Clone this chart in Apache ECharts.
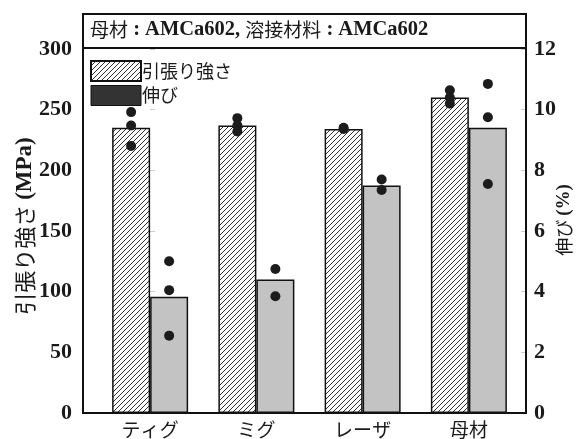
<!DOCTYPE html>
<html>
<head>
<meta charset="utf-8">
<script src="https://cdn.jsdelivr.net/npm/echarts@6/dist/echarts.min.js"></script>
<style>
  html, body { margin: 0; padding: 0; background: #fff; }
  #chart { width: 576px; height: 439px; }
</style>
</head>
<body>
<div id="chart"></div>
<script>
// Welding method comparison: tensile strength (left axis) and elongation (right axis)
const categories = ['ティグ', 'ミグ', 'レーザ', '母材'];
const strengthMean = [235, 237, 234, 260];          // MPa
const elongationMean = [3.83, 4.4, 7.5, 9.4];      // %
const strengthPoints = [[248, 237, 220], [243, 237, 232], [235, 234], [266, 260, 255]];
const elongationPoints = [[5.0, 4.05, 2.55], [4.75, 3.85], [7.7, 7.35], [10.85, 9.75, 7.55]];
const leftTicks = { min: 0, max: 300, interval: 50 };
const rightTicks = { min: 0, max: 12, interval: 2 };

const SERIF = '"Liberation Serif", "DejaVu Serif", serif';
const CJK = '"Noto Sans CJK JP", "Noto Sans", sans-serif';

// diagonal hatch fill for the strength bars
function hatchPattern() {
  const s = 5;
  const c = document.createElement('canvas');
  c.width = s; c.height = s;
  const g = c.getContext('2d');
  g.fillStyle = '#fff';
  g.fillRect(0, 0, s, s);
  g.strokeStyle = '#333';
  g.lineWidth = 1;
  g.beginPath();
  g.moveTo(0, s); g.lineTo(s, 0);
  g.moveTo(-1, 1); g.lineTo(1, -1);
  g.moveTo(s - 1, s + 1); g.lineTo(s + 1, s - 1);
  g.stroke();
  return c;
}

// offset of each bar's centre from its category centre, in category units
const BAR_SHIFT = 0.179;
const strengthScatter = [];
const elongationScatter = [];
strengthPoints.forEach((pts, i) => pts.forEach(v => strengthScatter.push([i - BAR_SHIFT, v])));
elongationPoints.forEach((pts, i) => pts.forEach(v => elongationScatter.push([i + BAR_SHIFT, v])));

const chart = echarts.init(document.getElementById('chart'), null, { renderer: 'canvas' });

const tickLabel = { fontFamily: SERIF, fontWeight: 'bold', fontSize: 22, color: '#1a1a1a' };

// vertical axis title, reading bottom to top
function axisTitle(x, y, text, cjkSize, latinSize) {
  return {
    type: 'text', z: 11, silent: true,
    x: x, y: y, rotation: Math.PI / 2,
    style: {
      text: text, align: 'center', verticalAlign: 'middle',
      rich: {
        c: { fontFamily: CJK, fontSize: cjkSize, fill: '#1a1a1a' },
        l: { fontFamily: SERIF, fontWeight: 'bold', fontSize: latinSize, fill: '#1a1a1a' }
      }
    }
  };
}

chart.setOption({
  backgroundColor: '#fff',
  animation: false,
  grid: { left: 97, right: 54, top: 49, bottom: 26, outerBoundsMode: 'none', containLabel: false },
  legend: {
    orient: 'vertical',
    left: 85, top: 55,
    itemWidth: 50, itemHeight: 20, itemGap: 3,
    textStyle: { fontFamily: CJK, fontSize: 18, color: '#1a1a1a', padding: [0, 0, 0, -4] },
    data: [
      { name: '引張り強さ', icon: 'rect' },
      { name: '伸び', icon: 'rect', itemStyle: { color: '#333', borderColor: '#111', borderWidth: 1 } }
    ]
  },
  xAxis: [
    {
      type: 'category',
      data: categories,
      axisLine: { show: false },
      axisTick: { show: false },
      axisLabel: { fontFamily: CJK, fontSize: 19, color: '#1a1a1a', margin: 7 }
    },
    { type: 'value', min: -0.5, max: 3.5, show: false }
  ],
  yAxis: [
    {
      type: 'value', position: 'left', offset: 14,
      min: leftTicks.min, max: leftTicks.max, interval: leftTicks.interval,
      splitLine: { show: false },
      axisLine: { show: false },
      axisTick: { show: true, inside: true, length: 5, lineStyle: { color: '#ccc' } },
      axisLabel: Object.assign({ margin: 11 }, tickLabel)
    },
    {
      type: 'value', position: 'right', offset: 4,
      min: rightTicks.min, max: rightTicks.max, interval: rightTicks.interval,
      splitLine: { show: false },
      axisLine: { show: false },
      axisTick: { show: true, inside: true, length: 5, lineStyle: { color: '#ccc' } },
      axisLabel: Object.assign({ margin: 8 }, tickLabel)
    }
  ],
  series: [
    {
      name: '引張り強さ', type: 'bar', xAxisIndex: 0, yAxisIndex: 0,
      data: strengthMean, barWidth: 38, barGap: '0%',
      itemStyle: { color: { image: hatchPattern(), repeat: 'repeat' }, borderColor: '#111', borderWidth: 1.5 }
    },
    {
      name: '伸び', type: 'bar', xAxisIndex: 0, yAxisIndex: 1,
      data: elongationMean, barWidth: 38,
      itemStyle: { color: '#c3c3c3', borderColor: '#111', borderWidth: 1.5 }
    },
    {
      name: 'strengthPts', type: 'scatter', xAxisIndex: 1, yAxisIndex: 0,
      data: strengthScatter, symbolSize: 10, z: 5,
      itemStyle: { color: '#1c1c1c', opacity: 1 }
    },
    {
      name: 'elongationPts', type: 'scatter', xAxisIndex: 1, yAxisIndex: 1,
      data: elongationScatter, symbolSize: 10, z: 5,
      itemStyle: { color: '#1c1c1c', opacity: 1 }
    }
  ],
  graphic: [
    // plot frame
    {
      type: 'rect', z: 10, silent: true,
      shape: { x: 83, y: 14, width: 443, height: 399 },
      style: { fill: null, stroke: '#111', lineWidth: 2 }
    },
    // heading box with material note
    {
      type: 'rect', z: 10, silent: true,
      shape: { x: 83, y: 14, width: 443, height: 34 },
      style: { fill: '#fff', stroke: '#111', lineWidth: 2 }
    },
    {
      type: 'text', z: 11, silent: true, left: 90, top: 19,
      style: {
        text: '{c|母材}{l| : AMCa602, }{c|溶接材料}{l| : AMCa602}',
        rich: {
          c: { fontFamily: CJK, fontSize: 19, fill: '#1a1a1a' },
          l: { fontFamily: SERIF, fontWeight: 'bold', fontSize: 20.5, fill: '#1a1a1a' }
        }
      }
    },
    // axis titles
    axisTitle(25, 226, '{c|引張り強さ }{l|(MPa)}', 22, 23),
    axisTitle(564, 220, '{c|伸び }{l|(%)}', 18, 19)
  ]
});
</script>
</body>
</html>
